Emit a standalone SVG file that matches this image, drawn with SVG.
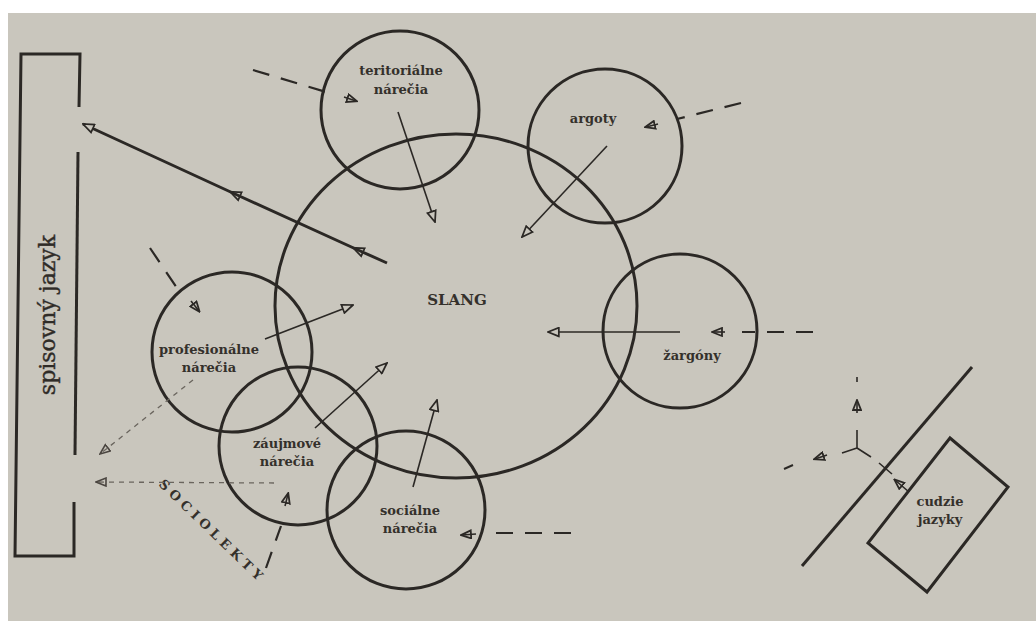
<svg xmlns="http://www.w3.org/2000/svg" width="1036" height="621" viewBox="0 0 1036 621">
<defs>
<style>
.bg{fill:#c9c6bd}
.c{fill:none;stroke:#2b2825;stroke-width:3}
.thick{fill:none;stroke:#2b2825;stroke-width:3}
.thin{fill:none;stroke:#2b2825;stroke-width:1.6}
.dash{fill:none;stroke:#2b2825;stroke-width:2.2;stroke-dasharray:17,12}
.dot{fill:none;stroke:#6a655e;stroke-width:1.3;stroke-dasharray:5,5}
.t{font-family:"DejaVu Serif","Liberation Serif",serif;font-size:13px;font-weight:bold;fill:#34302b;text-anchor:middle}
.big{font-family:"DejaVu Serif","Liberation Serif",serif;font-size:22px;fill:#2f2b27;stroke:#2f2b27;stroke-width:0.4;text-anchor:middle}
</style>
<marker id="ah" viewBox="0 0 12 10" refX="11" refY="5" markerWidth="13" markerHeight="11" markerUnits="userSpaceOnUse" orient="auto">
<path d="M1,1 L11,5 L1,9 Z" fill="#c9c6bd" stroke="#2b2825" stroke-width="1.6"/>
</marker>
<marker id="ahs" viewBox="0 0 12 10" refX="10" refY="5" markerWidth="12" markerHeight="10" markerUnits="userSpaceOnUse" orient="auto">
<path d="M1,1 L11,5 L1,9 Z" fill="none" stroke="#2b2825" stroke-width="1.8"/>
</marker>
<marker id="ahm" viewBox="0 0 12 10" refX="6" refY="5" markerWidth="13" markerHeight="11" markerUnits="userSpaceOnUse" orient="auto">
<path d="M1,1 L11,5 L1,9 Z" fill="none" stroke="#2b2825" stroke-width="1.6"/>
</marker>
<marker id="ahd" viewBox="0 0 12 10" refX="11" refY="5" markerWidth="12" markerHeight="10" markerUnits="userSpaceOnUse" orient="auto">
<path d="M1,1 L11,5 L1,9 Z" fill="none" stroke="#4a4540" stroke-width="1.6"/>
</marker>
</defs>
<rect x="0" y="0" width="1036" height="621" fill="#ffffff"/>
<rect class="bg" x="8" y="13" width="1028" height="608"/>

<g id="spisovny-jazyk">
<path class="c" d="M79,107 L80,54 L21,54 L15,556 L74,556 L74,502"/>
<path class="c" d="M78,152 L75,455"/>
<text class="big" transform="translate(55,315) rotate(-90)">spisovný jazyk</text>
</g>

<g id="slang">
<ellipse class="c" cx="456" cy="306" rx="181" ry="172"/>
<text class="t" x="457" y="305" style="font-size:15px">SLANG</text>
</g>

<g id="teritorialne-narecia">
<circle class="c" cx="400" cy="110" r="79"/>
<text class="t" x="401" y="75">teritoriálne</text>
<text class="t" x="401" y="94">nárečia</text>
</g>

<g id="argoty">
<circle class="c" cx="605" cy="146" r="77"/>
<text class="t" x="593" y="123">argoty</text>
</g>

<g id="zargony">
<circle class="c" cx="680" cy="331" r="77"/>
<text class="t" x="692" y="360">žargóny</text>
</g>

<g id="profesionalne-narecia">
<circle class="c" cx="232" cy="352" r="80"/>
<text class="t" x="209" y="354">profesionálne</text>
<text class="t" x="209" y="372">nárečia</text>
</g>

<g id="zaujmove-narecia">
<circle class="c" cx="298" cy="446" r="79"/>
<text class="t" x="287" y="448">záujmové</text>
<text class="t" x="287" y="466">nárečia</text>
</g>

<g id="socialne-narecia">
<circle class="c" cx="406" cy="510" r="79"/>
<text class="t" x="410" y="515">sociálne</text>
<text class="t" x="410" y="533">nárečia</text>
</g>

<g id="cudzie-jazyky">
<path class="c" d="M950,438 L1008,487 L927,592 L868,543 Z"/>
<path class="c" d="M802,566 L972,367"/>
<text class="t" x="940" y="506">cudzie</text>
<text class="t" x="940" y="524">jazyky</text>
</g>

<g id="sociolekty">
<text class="t" style="text-anchor:start;font-size:13px;letter-spacing:4.5px" transform="translate(158,485) rotate(44)">SOCIOLEKTY</text>
</g>

<g id="connectors">
<path class="thick" d="M387,263 L358,250 L235,194 L83,124" marker-mid="url(#ahm)" marker-end="url(#ah)"/>
<path class="thin" d="M398,112 L435,222" marker-end="url(#ah)"/>
<path class="thin" d="M607,146 L522,237" marker-end="url(#ah)"/>
<path class="thin" d="M680,332 L548,332" marker-end="url(#ah)"/>
<path class="thin" d="M265,339 L353,305" marker-end="url(#ah)"/>
<path class="thin" d="M315,428 L387,363" marker-end="url(#ah)"/>
<path class="thin" d="M413,487 L437,400" marker-end="url(#ah)"/>

<path class="dash" d="M253,70 L336,95"/>
<path class="thin" d="M344,97 L356,101" marker-end="url(#ahs)"/>
<path class="dash" d="M741,103 L677,119"/>
<path class="thin" d="M658,124 L646,127" marker-end="url(#ahs)"/>
<path class="dash" d="M813,332 L742,332"/>
<path class="thin" d="M725,332 L713,332" marker-end="url(#ahs)"/>
<path class="dash" d="M150,248 L181,294"/>
<path class="thin" d="M191,301 L199,311" marker-end="url(#ahs)"/>
<path class="dash" d="M266,568 L281,526"/>
<path class="thin" d="M285,506 L288,494" marker-end="url(#ahs)"/>
<path class="dash" d="M571,533 L490,533"/>
<path class="thin" d="M476,534 L462,535" marker-end="url(#ahs)"/>

<path class="dot" d="M193,380 L100,454" marker-end="url(#ahd)"/>
<path class="dot" d="M274,483 L96,482" marker-end="url(#ahd)"/>

<path class="thin" d="M857,448 L857,430 M857,448 L842,453 M857,448 L871,457 M879,463 L892,474"/>
<path class="thin" d="M909,492 L895,480" marker-end="url(#ahs)"/>
<path class="thin" d="M857,413 L857,401" marker-end="url(#ahs)"/>
<path class="thin" d="M857,377 L857,382"/>
<path class="thin" d="M827,455 L815,459" marker-end="url(#ahs)"/>
<path class="thin" style="stroke-width:2" d="M784,469 L793,465"/>
</g>
</svg>
